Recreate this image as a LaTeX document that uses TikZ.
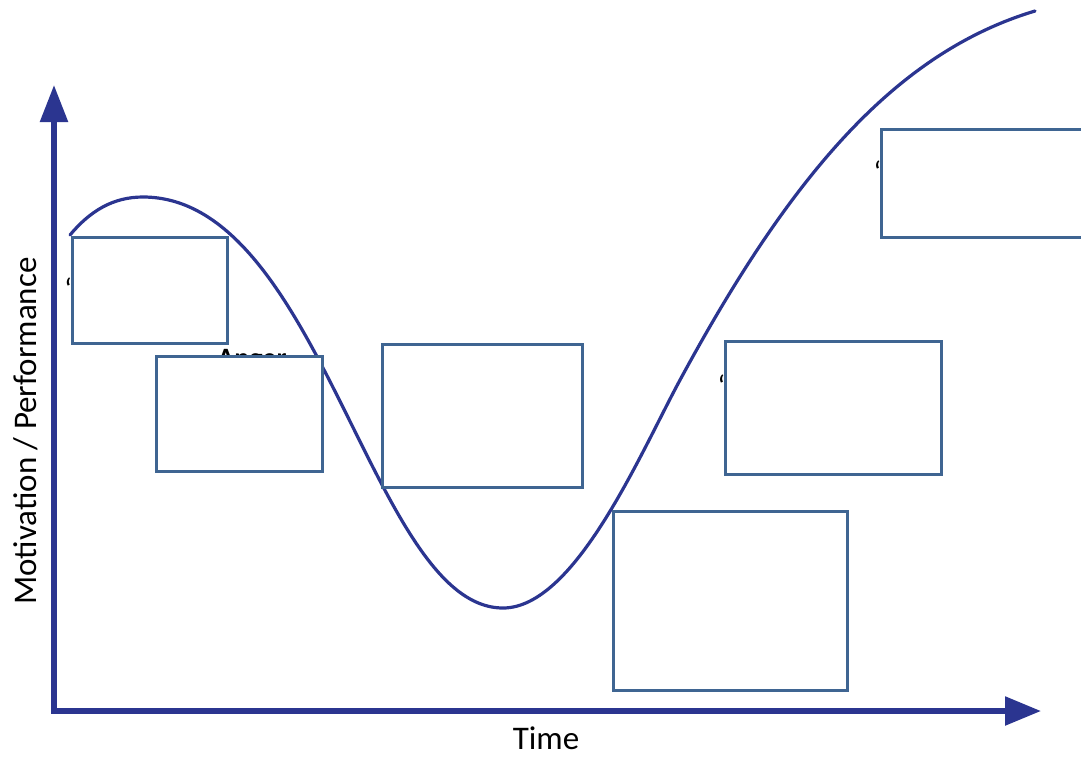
\documentclass[tikz,border=0pt]{standalone}
\usepackage{fontspec}
\setmainfont{Carlito}
\usetikzlibrary{arrows.meta}
\definecolor{axisblue}{HTML}{2B3590}
\definecolor{boxblue}{HTML}{3F6592}
\tikzset{
  x=1pt, y=-1pt,
  boxnode/.style={draw=boxblue, line width=3pt, fill=white, rectangle, inner sep=0pt, outer sep=0pt},
  axisline/.style={draw=axisblue, line width=5.5pt, line join=miter},
  curveline/.style={draw=axisblue, line width=3.2pt, line cap=round},
  quotemark/.style={font=\fontsize{30}{30}\selectfont, inner sep=0pt, anchor=east},
  labeltext/.style={font=\fontsize{33}{33}\selectfont, inner sep=0pt}
}
\begin{document}
\begin{tikzpicture}
\useasboundingbox (0,0) rectangle (1081,756);
% axes
\coordinate (ytip) at (54,85);
\coordinate (origin) at (54,711);
\coordinate (xtip) at (1041,711);
\draw[axisline, {Triangle[length=37pt,width=27pt]}-{Triangle[length=36pt,width=28pt]}] (ytip) -- (origin) -- (xtip);
% axis labels
\node[labeltext, rotate=90] (ylab) at (26,431) {Motivation / Performance};
\node[labeltext, anchor=base] (xlab) at (546,749) {Time};
% hidden texts behind boxes
\node[font=\bfseries\fontsize{28}{28}\selectfont, inner sep=0pt, anchor=north] (anger) at (252,349) {Anger};
\node[quotemark] (q1) at (77,289) {“};
\node[quotemark] (q2) at (730,386) {“};
\node[quotemark] (q3) at (886,172) {“};
% curve
\coordinate (cstart) at (70,235);
\coordinate (cmax) at (143,197);
\coordinate (cmin) at (503,608);
\coordinate (crise) at (680,380);
\coordinate (cend) at (1035,11);
\draw[curveline] (cstart) .. controls (90,211) and (113,197) .. (cmax)
  .. controls (321,197) and (372,608) .. (cmin)
  .. controls (575,608) and (640,454) .. (crise)
  .. controls (790,176.5) and (895,53) .. (cend);
% boxes
\node[boxnode, minimum width=155pt, minimum height=106pt] (b1) at (149.5,290) {};
\node[boxnode, minimum width=166pt, minimum height=115pt] (b2) at (239,413.5) {};
\node[boxnode, minimum width=200pt, minimum height=143pt] (b3) at (482,415.5) {};
\node[boxnode, minimum width=234pt, minimum height=179pt] (b4) at (730,600.5) {};
\node[boxnode, minimum width=216pt, minimum height=133pt] (b5) at (833,407.5) {};
\node[boxnode, minimum width=210pt, minimum height=108pt] (b6) at (986,183) {};
\end{tikzpicture}
\end{document}
